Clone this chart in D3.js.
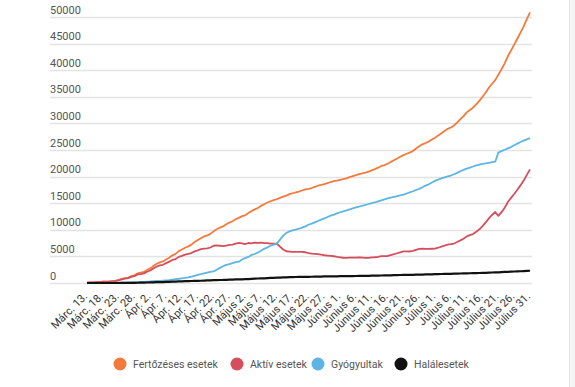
<!DOCTYPE html>
<html><head><meta charset="utf-8">
<script src="https://cdn.jsdelivr.net/npm/d3@7"></script>
<style>
html,body{margin:0;padding:0;background:#fff;}
svg{display:block;font-family:Roboto,"Noto Sans",sans-serif;}
</style></head>
<body><svg id="c" width="575" height="387"></svg>
<script>
const startDate = "2020-03-13";
const tickLabels = ["Márc. 13.","Márc. 18.","Márc. 23.","Márc. 28.","Ápr. 2.","Ápr. 7.","Ápr. 12.","Ápr. 17.","Ápr. 22.","Ápr. 27.","Május 2.","Május 7.","Május 12.","Május 17.","Május 22.","Május 27.","Június 1.","Június 6.","Június 11.","Június 16.","Június 21.","Június 26.","Július 1.","Július 6.","Július 11.","Július 16.","Július 21.","Július 26.","Július 31."];
const yTicks = [0,5000,10000,15000,20000,25000,30000,35000,40000,45000,50000];
const seriesNames = ["Fertőzéses esetek","Aktív esetek","Gyógyultak","Halálesetek"];
const seriesColors = ["#f47a3c","#d64d5c","#5cb5e4","#111111"];

const cases = [89,123,131,158,184,260,277,308,367,433,576,762,906,1029,1292,1452,1815,1952,2109,
2460,2738,3183,3613,3864,4057,4417,4761,5202,5467,5990,6300,6633,6879,7216,7707,8067,8418,8746,8936,9242,9710,10096,10417,10635,11036,11339,11616,11978,12240,
12567,12732,13163,13512,13837,14107,14499,14811,15131,15362,15588,15778,16002,16247,16437,16704,16871,17036,17191,17387,17585,17712,17857,18070,18283,18429,18594,18791,18982,19133,19257,
19398,19517,19669,19907,20103,20290,20479,20604,20749,20945,21182,21404,21679,21999,22165,22415,22760,23080,23400,23730,24045,24291,24505,24826,25286,25697,26064,26313,26582,26970,
27296,27746,28166,28582,28973,29223,29620,30175,30789,31381,32079,32535,32948,33585,34226,35003,35802,36691,37458,38139,39133,40163,41275,42613,43678,44798,45902,47053,48235,49591,50886];

const active = [80,114,122,141,165,241,252,277,315,366,499,672,807,912,1151,1271,1603,1681,1807,
2116,2344,2721,3095,3306,3427,3727,4013,4338,4495,4912,5112,5347,5468,5627,5950,6148,6349,6478,6500,6674,7005,7073,7005,6919,7035,7173,7223,7410,7548,
7464,7313,7519,7465,7571,7532,7583,7501,7509,7406,7410,7376,6836,6301,5967,5910,5864,5856,5850,5840,5779,5600,5532,5486,5432,5313,5217,5156,5090,5031,4894,
4822,4749,4728,4760,4777,4774,4807,4753,4704,4740,4808,4840,4929,5059,5038,5078,5259,5407,5592,5771,5933,5948,5924,6036,6241,6418,6474,6401,6416,6436,
6445,6629,6829,7024,7197,7292,7419,7711,8006,8332,8762,9001,9201,9613,10092,10702,11381,12141,12785,13346,12624,13316,14151,15212,16002,16736,17515,18347,19246,20322,21357];

const recovered = [9,9,9,17,19,19,25,31,52,64,73,79,82,94,115,144,169,206,220,
252,283,329,372,407,454,493,528,616,702,787,872,950,1060,1217,1357,1508,1648,1817,1958,2070,2181,2478,2845,3141,3400,3547,3752,3905,4017,
4410,4694,4900,5269,5454,5733,6053,6423,6700,7000,7200,7400,8150,8900,9400,9700,9900,10050,10200,10400,10650,10950,11150,11400,11650,11900,12150,12400,12650,12850,13100,
13300,13480,13650,13850,14020,14200,14350,14520,14700,14850,15000,15180,15350,15530,15700,15900,16050,16200,16320,16460,16600,16820,17050,17250,17480,17700,18000,18300,18550,18900,
19200,19450,19650,19850,20050,20200,20450,20700,21000,21250,21500,21700,21900,22100,22250,22400,22500,22600,22700,22800,24500,24800,25050,25300,25550,25900,26200,26500,26750,27000,27225];

const deaths = [0,0,0,0,0,0,0,0,0,3,4,11,17,23,26,37,43,65,82,
92,111,133,146,151,176,197,220,248,270,291,316,336,351,372,400,411,421,451,478,498,524,545,567,575,601,619,641,663,675,
693,725,744,778,812,842,863,887,922,956,978,1002,1016,1046,1070,1094,1107,1130,1141,1147,1156,1162,1175,1184,1201,1216,1227,1235,1242,1252,1263,
1276,1288,1291,1297,1306,1316,1322,1331,1345,1355,1374,1384,1400,1410,1427,1437,1451,1473,1488,1499,1512,1523,1531,1540,1565,1579,1590,1612,1616,1634,
1651,1667,1687,1708,1726,1731,1751,1764,1783,1799,1817,1834,1847,1872,1884,1901,1921,1950,1973,1993,2009,2047,2074,2101,2126,2162,2187,2206,2239,2269,2304];

const svg = d3.select("#c");
const t0 = new Date(startDate + "T00:00:00Z");
const dates = d3.utcDay.range(t0, d3.utcDay.offset(t0, cases.length));
const x = d3.scaleUtc().domain([dates[0], dates[dates.length-1]]).range([87, 530]);
const y = d3.scaleLinear().domain([0, 50000]).range([283, 17]);

// right panel edge
svg.append("rect").attr("x",569).attr("y",0).attr("width",6).attr("height",387).attr("fill","#f4f4f4");
svg.append("line").attr("x1",569.5).attr("x2",569.5).attr("y1",0).attr("y2",387).attr("stroke","#e4e4e4");

// grid + y labels
const g = svg.append("g");
g.selectAll("line.grid").data(yTicks).join("line")
  .attr("x1",50).attr("x2",532)
  .attr("y1",d=>Math.round(y(d))+0.5).attr("y2",d=>Math.round(y(d))+0.5)
  .attr("stroke","#e3e3e3").attr("stroke-width",1.5);
g.selectAll("text.yl").data(yTicks).join("text")
  .attr("x",50).attr("y",d=>y(d)-3.5)
  .attr("font-size",11).attr("fill","#555")
  .text(d=>d);

// x labels
const tickDates = tickLabels.map((l,i)=>dates[i*5]);
svg.selectAll("text.xl").data(tickLabels).join("text")
  .attr("transform",(d,i)=>`translate(${x(tickDates[i])+1},${297}) rotate(-45)`)
  .attr("text-anchor","end")
  .attr("font-size",11).attr("fill","#333")
  .text(d=>d);

// lines
const allSeries = [cases, active, recovered, deaths];
const line = d3.line().x((d,i)=>x(dates[i])).y(d=>y(d));
allSeries.forEach((s,k)=>{
  svg.append("path").datum(s).attr("d",line)
    .attr("fill","none").attr("stroke",seriesColors[k])
    .attr("stroke-width",k===3?2.2:1.8).attr("stroke-linejoin","round");
});

// legend
const legX = [120, 237, 318, 401];
const lg = svg.append("g");
seriesNames.forEach((n,k)=>{
  lg.append("circle").attr("cx",legX[k]).attr("cy",364).attr("r",6.5).attr("fill",seriesColors[k]);
  lg.append("text").attr("x",legX[k]+13).attr("y",368).attr("font-size",10.5).attr("fill","#555").text(n);
});
</script></body></html>
